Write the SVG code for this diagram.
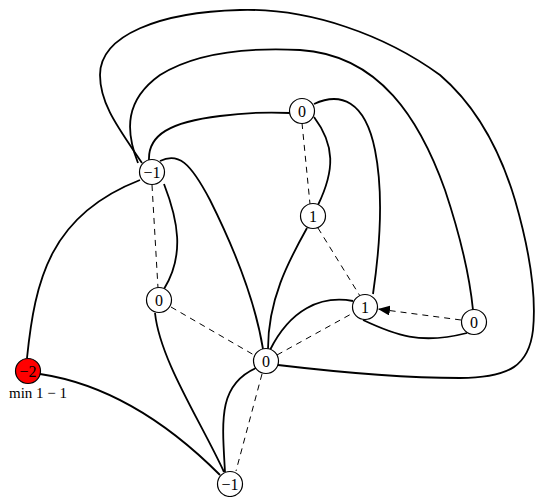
<svg xmlns="http://www.w3.org/2000/svg" width="537" height="497" viewBox="0 0 537 497">
<style>
.e{fill:none;stroke:#000;stroke-width:1.8}
.d{fill:none;stroke:#000;stroke-width:1;stroke-dasharray:6,5}
.n{fill:#fff;stroke:#000;stroke-width:1.2}
.t{font-family:"Liberation Serif",serif;font-size:16px;text-anchor:middle;fill:#000}
</style>
<defs>
<marker id="arr" viewBox="0 0 12 10" refX="12" refY="5" markerWidth="12" markerHeight="10" markerUnits="userSpaceOnUse" orient="auto">
<path d="M0,0 L12,5 L0,10 Z" fill="#000"/>
</marker>
</defs>
<rect width="537" height="497" fill="#fff"/>
<g id="connectors">
<path class="e" d="M27,358 C35,280 50,215 140,180"/>
<path class="e" d="M40,374 C100,383 160,415 220,475"/>
<path class="e" d="M142,163 C120,130 100,105 100,75 C100,35 160,12 240,10 C310,8 385,35 440,75 C475,105 500,150 515,200 C528,245 537,290 533,330 C529,365 510,378 460,378 C400,378 320,370 278,365"/>
<path class="e" d="M138,163 C125,130 125,100 160,75 C200,50 260,48 300,50 C380,55 420,120 445,190 C460,235 470,280 473,310"/>
<path class="e" d="M149,160 C148,135 170,122 220,116 C250,112 270,112 290,113"/>
<path class="e" d="M314,104 C340,92 365,100 375,150 C385,200 378,260 373,294"/>
<path class="e" d="M314,117 C335,145 335,170 318,205"/>
<path class="e" d="M307,228 C288,262 268,300 268,349"/>
<path class="e" d="M164,184 C178,220 185,255 164,289"/>
<path class="e" d="M160,161 C178,152 190,162 210,200 C235,250 255,300 263,349"/>
<path class="e" d="M155,313 C160,360 200,420 224,472"/>
<path class="e" d="M225,472 C222,420 218,385 256,368"/>
<path class="e" d="M270,350 C290,310 320,295 353,301"/>
<path class="e" d="M363,320 C395,335 420,345 467,333"/>
<path class="d" d="M152,185 L158,288"/>
<path class="d" d="M302,123 L310,204"/>
<path class="d" d="M318,228 L360,296"/>
<path class="d" d="M171,307 L254,355"/>
<path class="d" d="M277,355 L353,313"/>
<path class="d" d="M262,374 L236,471"/>
<path class="d" d="M461,320 L378,309" marker-end="url(#arr)"/>
</g>
<g id="nA"><circle class="n" cx="28" cy="371" r="12.5" style="fill:#ff0000"/><text class="t" x="28" y="376.5">−2</text></g>
<g id="nB"><circle class="n" cx="152" cy="172" r="12.5"/><text class="t" x="152" y="177.5">−1</text></g>
<g id="nC"><circle class="n" cx="302" cy="111" r="12.5"/><text class="t" x="302" y="116.5">0</text></g>
<g id="nD"><circle class="n" cx="313" cy="216" r="12.5"/><text class="t" x="313" y="221.5">1</text></g>
<g id="nE"><circle class="n" cx="159" cy="300" r="12.5"/><text class="t" x="159" y="305.5">0</text></g>
<g id="nF"><circle class="n" cx="365" cy="307" r="12.5"/><text class="t" x="365" y="312.5">1</text></g>
<g id="nG"><circle class="n" cx="474" cy="322" r="12.5"/><text class="t" x="474" y="327.5">0</text></g>
<g id="nH"><circle class="n" cx="266" cy="361" r="12.5"/><text class="t" x="266" y="366.5">0</text></g>
<g id="nI"><circle class="n" cx="230" cy="484" r="12.5"/><text class="t" x="230" y="489.5">−1</text></g>
<g id="label"><text class="t" x="38" y="398" style="font-size:15px">min 1 − 1</text></g>
</svg>
